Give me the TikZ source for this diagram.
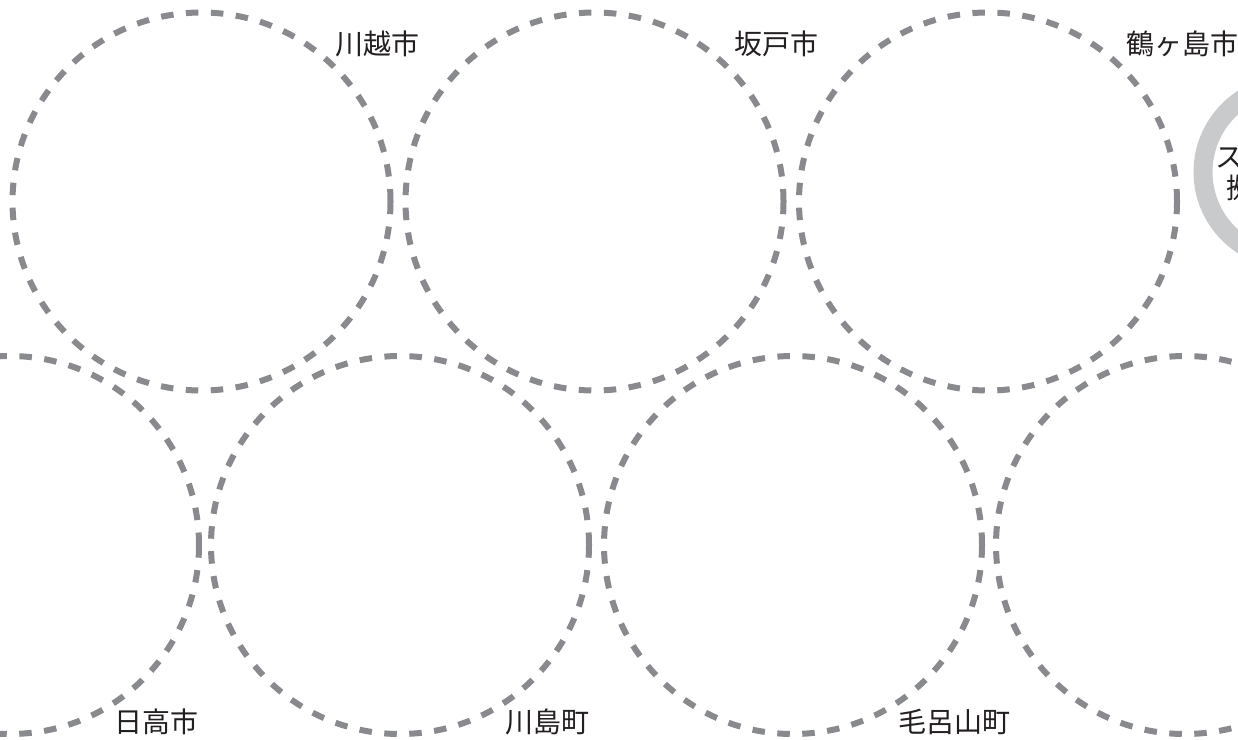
\documentclass[tikz,border=0pt]{standalone}
\usepackage{fontspec}
\newfontfamily\jp{Noto Sans CJK JP}
\definecolor{dashgray}{HTML}{898A8E}
\definecolor{ringgray}{HTML}{C9CACB}
\definecolor{txt}{HTML}{231F20}
\begin{document}
\begin{tikzpicture}[x=1pt,y=-1pt,
  area/.style={circle,draw=dashgray,line width=6pt,dash pattern=on 12.5pt off 12.5pt,minimum size=378pt,inner sep=0pt},
  lbl/.style={font=\jp\fontsize{28}{30}\selectfont,text=txt,inner sep=0pt},
  spot/.style={circle,draw=ringgray,line width=19pt,minimum size=174pt,inner sep=0pt}]
\useasboundingbox (0,0) rectangle (1238,739);
\clip (0,0) rectangle (1238,739);
\fill[white] (0,0) rectangle (1238,739);
% top row
\node[area] (kawagoe) at (201.5,201.5) {};
\node[area] (sakado) at (594.5,201.5) {};
\node[area] (tsuru) at (988,201.5) {};
% bottom row
\node[area] (hidaka) at (10,545) {};
\node[area] (kawajima) at (400,545) {};
\node[area] (moro) at (793,545) {};
\node[area] (right) at (1185,545) {};
% grey ring
\node[spot] (station) at (1290,172) {};
\node[lbl,anchor=west] (st1) at (1215,156) {スタンプ};
\node[lbl,anchor=west] (st2) at (1226,188) {拠点};
% labels
\node[lbl] (l1) at (377,44) {川越市};
\node[lbl] (l2) at (776,44) {坂戸市};
\node[lbl,anchor=west] (l3) at (1126,44) {鶴ヶ島市};
\node[lbl] (l4) at (156,722) {日高市};
\node[lbl] (l5) at (547,722) {川島町};
\node[lbl] (l6) at (954,722) {毛呂山町};
\end{tikzpicture}
\end{document}
